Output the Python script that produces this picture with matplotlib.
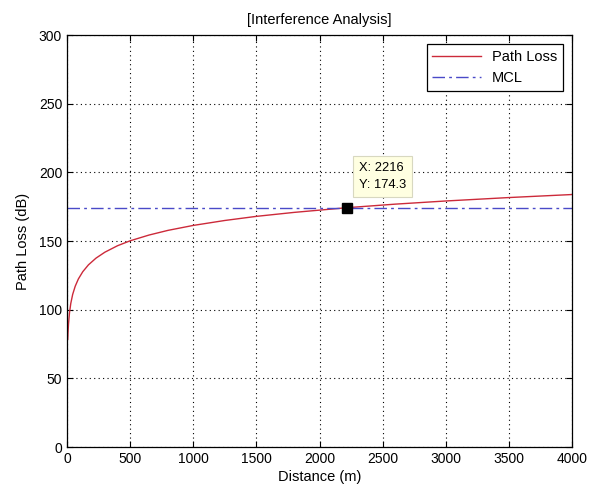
import matplotlib
matplotlib.use('Agg')
import matplotlib.pyplot as plt

# Values
distance = [6, 8, 12, 20, 30, 45, 65, 90, 125, 170, 230, 300, 400, 500,
            650, 800, 1000, 1250, 1500, 1800, 2216, 2600, 3000, 3500, 4000]
path_loss = [78.5, 83.2, 89.8, 98.0, 104.6, 111.2, 117.1, 122.4, 127.7, 132.7,
             137.6, 141.9, 146.6, 150.2, 154.4, 157.8, 161.4, 165.0, 168.0,
             170.9, 174.3, 176.9, 179.2, 181.7, 183.9]
mcl_x = [0, 4000]
mcl_y = [174.3, 174.3]
tip_x = 2216
tip_y = 174.3

plt.rcParams['font.family'] = ['Liberation Sans', 'DejaVu Sans']
plt.rcParams['font.size'] = 10.5

fig = plt.figure(figsize=(5.94, 4.88), dpi=100)
ax = fig.add_axes([0.1128, 0.084, 0.8502, 0.844])

ax.plot(distance, path_loss, color='#cc2a3a', lw=1.0, label='Path Loss')
ax.plot(mcl_x, mcl_y, color='#4a4ac8', lw=1.0, linestyle=(0, (9, 3, 2, 3)), label='MCL')

# data tip
ax.plot([tip_x], [tip_y], 's', color='black', markersize=7, zorder=5)
ax.annotate('X: %d\nY: %.1f' % (tip_x, tip_y), xy=(tip_x, tip_y), xytext=(9, 12),
            textcoords='offset points', fontsize=9.3, va='bottom', ha='left',
            linespacing=1.6,
            bbox=dict(boxstyle='square,pad=0.45', fc='#ffffe1', ec='#d8d8c0', lw=0.8))

ax.set_xlim(0, 4000)
ax.set_ylim(0, 300)
ax.set_xticks(range(0, 4001, 500))
ax.set_yticks(range(0, 301, 50))
ax.tick_params(direction='in', length=4, top=True, right=True, labelsize=10)
ax.grid(True, color='black', linestyle=(0, (1, 3)), lw=0.8)
for s in ax.spines.values():
    s.set_linewidth(0.9)

ax.set_title('[Interference Analysis]', fontsize=10.5, pad=8)
ax.set_xlabel('Distance (m)', labelpad=3)
ax.set_ylabel('Path Loss (dB)', labelpad=6)

leg = ax.legend(loc='upper right', fancybox=False, edgecolor='black', framealpha=1,
                handlelength=3.3, fontsize=10.5, borderaxespad=0.6)
leg.get_frame().set_linewidth(0.9)

fig.savefig('out.png', dpi=100)
